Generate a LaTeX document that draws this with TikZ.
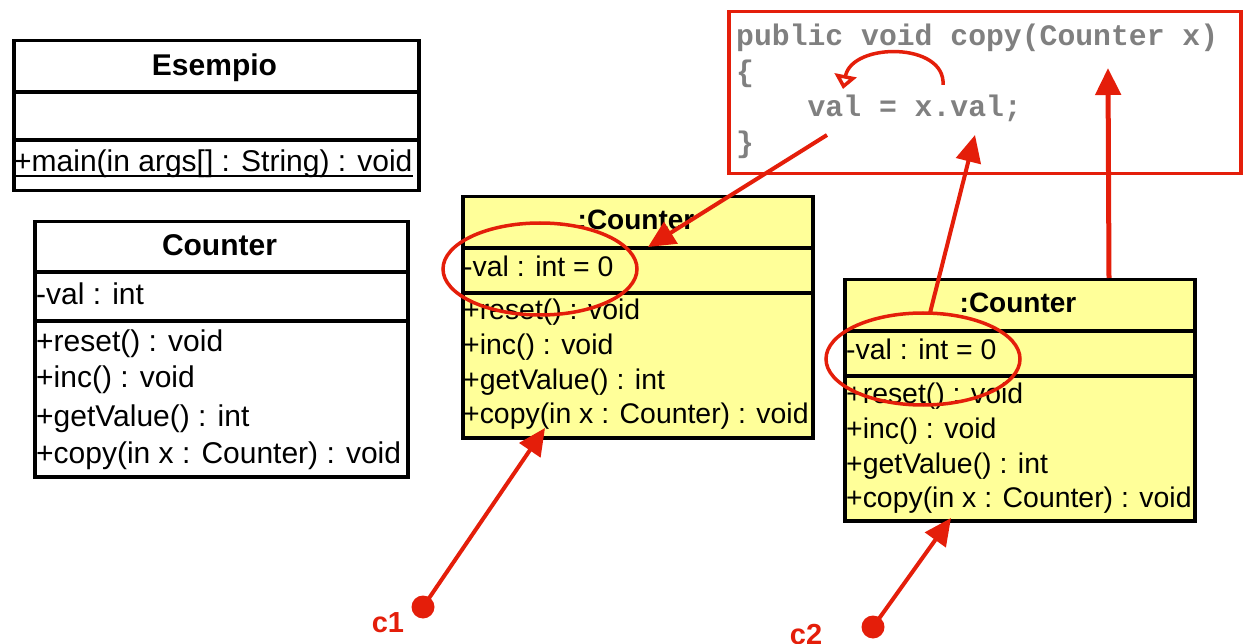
\documentclass[tikz,border=0pt]{standalone}
\usepackage{fontspec}
\setmainfont{Liberation Sans}
\newfontfamily\codefont{Liberation Mono}
\usetikzlibrary{arrows.meta,shapes.geometric}
\definecolor{umlyellow}{RGB}{255,255,153}
\definecolor{hilite}{RGB}{228,30,10}
\definecolor{codegray}{RGB}{128,128,128}

\begin{document}
\begin{tikzpicture}[x=1pt,y=-1pt,
  classbox/.style={draw=black,line width=3.5pt,anchor=north west,inner sep=0pt},
  sepline/.style={draw=black,line width=3.5pt},
  member/.style={anchor=base west,inner sep=0pt,font=\fontsize{30}{36}\selectfont},
  objmember/.style={member,font=\fontsize{28.4}{34}\selectfont},
  title/.style={anchor=base,inner sep=0pt,font=\fontsize{30}{36}\selectfont\bfseries},
  objtitle/.style={title,font=\fontsize{28}{34}\selectfont\bfseries},
  codeline/.style={anchor=base west,inner sep=0pt,text=codegray,
    font=\fontsize{29.75}{36}\selectfont\codefont\bfseries},
  ring/.style={draw=hilite,line width=3.5pt,ellipse,inner sep=0pt,
    minimum width=194pt,minimum height=92pt},
  link/.style={draw=hilite,line width=4pt,-{Triangle[length=27pt,width=25pt]}},
  dot/.style={circle,fill=hilite,inner sep=0pt,minimum size=23pt},
  reflabel/.style={text=hilite,inner sep=0pt,font=\fontsize{29}{34}\selectfont\bfseries},
]
\useasboundingbox (0,0) rectangle (1243,644);

% --- class Esempio
\node[classbox,minimum width=405pt,minimum height=150pt] (esempio) at (12,39) {};
\draw[sepline] (12,92) -- (417,92);
\draw[sepline] (12,140) -- (417,140);
\node[title] (esempioT) at (214.5,76) {Esempio};
\node[member] (main) at (14,172) {+main(in args[] : String) : void};
\draw[line width=1.5pt] ([yshift=-4pt]main.base west) -- ([yshift=-4pt]main.base east);

% --- class Counter
\node[classbox,minimum width=373pt,minimum height=255pt] (counter) at (33,220) {};
\draw[sepline] (33,272) -- (406,272);
\draw[sepline] (33,321) -- (406,321);
\node[title] (counterT) at (219.5,256) {Counter};
\node[member] (cval) at (36,305) {-val : int};
\node[member] (creset) at (36,352) {+reset() : void};
\node[member] (cinc) at (36,388) {+inc() : void};
\node[member] (cget) at (36,426) {+getValue() : int};
\node[member] (ccopy) at (36,463) {+copy(in x : Counter) : void};

% --- first instance
\node[classbox,fill=umlyellow,minimum width=350pt,minimum height=241pt] (objA) at (461,195) {};
\draw[sepline] (461,248) -- (811,248);
\draw[sepline] (461,293) -- (811,293);
\node[objtitle] (objAT) at (636,230) {:Counter};
\node[objmember] (aval) at (463,277) {-val : int = 0};
\node[objmember] (areset) at (463,320) {+reset() : void};
\node[objmember] (ainc) at (463,355) {+inc() : void};
\node[objmember] (aget) at (463,390) {+getValue() : int};
\node[objmember] (acopy) at (463,424) {+copy(in x : Counter) : void};

% --- second instance
\node[classbox,fill=umlyellow,minimum width=350pt,minimum height=241pt] (objB) at (843,278) {};
\draw[sepline] (843,331) -- (1193,331);
\draw[sepline] (843,376) -- (1193,376);
\node[objtitle] (objBT) at (1018,313) {:Counter};
\node[objmember] (bval) at (846,360) {-val : int = 0};
\node[objmember] (breset) at (846,403) {+reset() : void};
\node[objmember] (binc) at (846,438) {+inc() : void};
\node[objmember] (bget) at (846,473) {+getValue() : int};
\node[objmember] (bcopy) at (846,507) {+copy(in x : Counter) : void};

% --- method source
\node[draw=hilite,line width=3.5pt,anchor=north west,inner sep=0pt,
  minimum width=512pt,minimum height=162pt] (code) at (727,10) {};
\node[codeline] (sig) at (736,46) {public void copy(Counter x)};
\node[codeline] (open) at (736,82) {\{};
\node[codeline] (body) at (807.4,117) {val = x.val;};
\node[codeline] (close) at (736,153) {\}};

% --- highlighted attributes
\node[ring] (ringA) at (540,269) {};
\node[ring] (ringB) at (923,359) {};

% --- references
\node[dot] (c1dot) at (423,607) {};
\node[dot] (c2dot) at (873,627) {};
\node[reflabel] (c1) at (388,623) {c1};
\node[reflabel] (c2) at (806,635) {c2};

\coordinate (valStart) at (827,135);
\coordinate (valTip) at (648,247);
\coordinate (xvalStart) at (930,313);
\coordinate (xvalTip) at (975,135);
\coordinate (paramStart) at (1109,278);
\coordinate (paramTip) at (1108,68);
\coordinate (c1Tip) at (545,428);
\coordinate (c2Tip) at (951,518);
\coordinate (assignStart) at (943,85);
\coordinate (assignEnd) at (843,89);

\draw[link] (valStart) -- (valTip);
\draw[link] (xvalStart) -- (xvalTip);
\draw[link,line width=5pt] (paramStart) -- (paramTip);
\draw[link] (c1dot.center) -- (c1Tip);
\draw[link] (c2dot.center) -- (c2Tip);
\draw[draw=hilite,line width=3.5pt,-{Triangle[open,fill=white,length=14pt,width=22pt]}]
  (assignStart) .. controls (946,42) and (852,42) .. (assignEnd);
\end{tikzpicture}
\end{document}
